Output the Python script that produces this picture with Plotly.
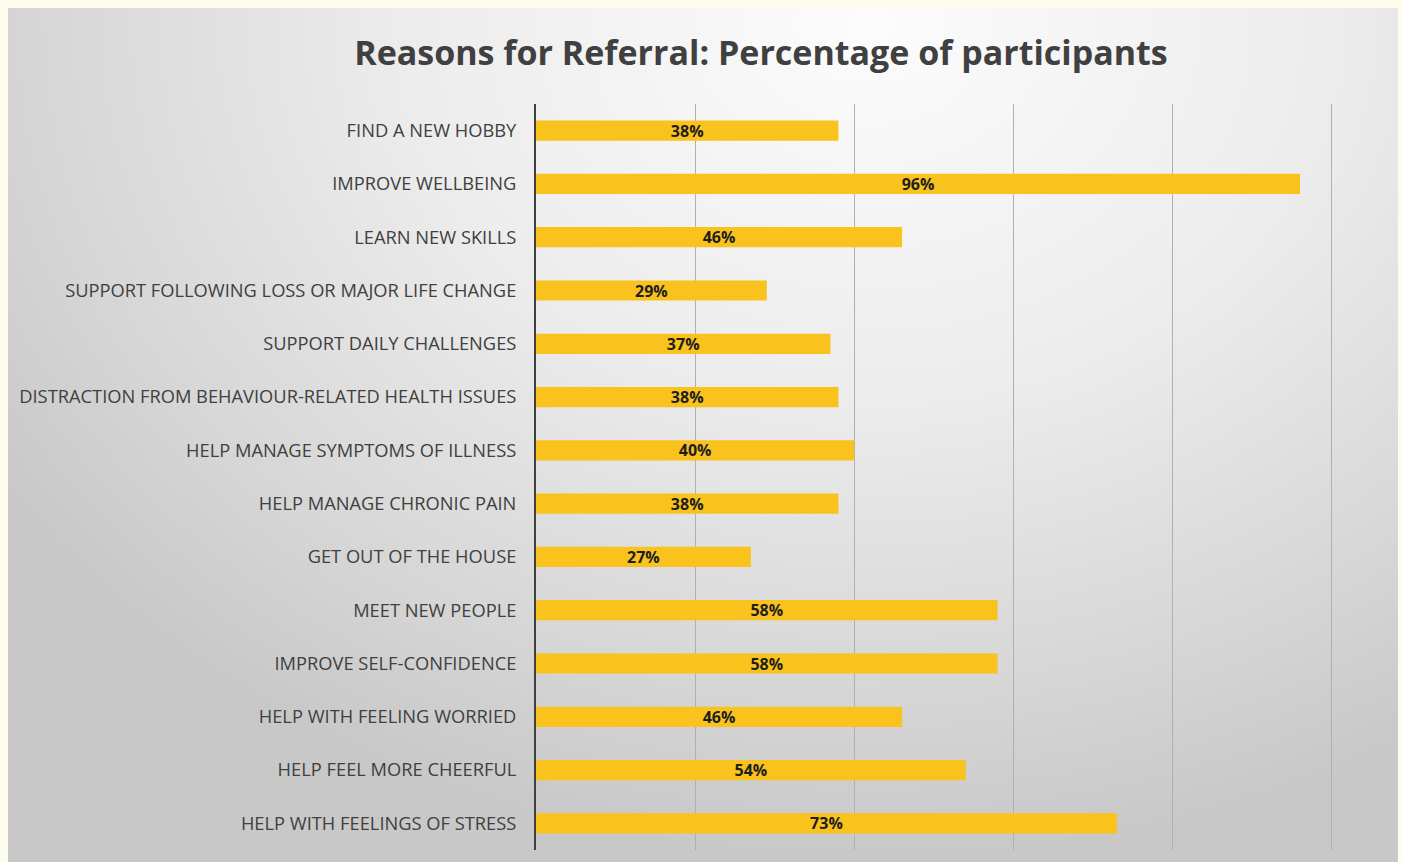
import base64
import plotly.graph_objects as go

categories = [
    "FIND A NEW HOBBY",
    "IMPROVE WELLBEING",
    "LEARN NEW SKILLS",
    "SUPPORT FOLLOWING LOSS OR MAJOR LIFE CHANGE",
    "SUPPORT DAILY CHALLENGES",
    "DISTRACTION FROM BEHAVIOUR-RELATED HEALTH ISSUES",
    "HELP MANAGE SYMPTOMS OF ILLNESS",
    "HELP MANAGE CHRONIC PAIN",
    "GET OUT OF THE HOUSE",
    "MEET NEW PEOPLE",
    "IMPROVE SELF-CONFIDENCE",
    "HELP WITH FEELING WORRIED",
    "HELP FEEL MORE CHEERFUL",
    "HELP WITH FEELINGS OF STRESS",
]
values = [38, 96, 46, 29, 37, 38, 40, 38, 27, 58, 58, 46, 54, 73]
labels = [f"{v}%" for v in values]
title_text = "Reasons for Referral: Percentage of participants"

W, H = 1403, 862
L, R, T, B = 536, 70, 104, 12
pw, ph = W - L - R, H - T - B

svg = """<svg xmlns='http://www.w3.org/2000/svg' width='1390' height='854' viewBox='0 0 1390 854' preserveAspectRatio='none'>
<defs><radialGradient id='g' cx='0.62' cy='0.02' r='0.75' gradientTransform='translate(0.62 0.02) scale(1 1.3) translate(-0.62 -0.02)'>
<stop offset='0' stop-color='#fcfcfc'/><stop offset='0.45' stop-color='#ececec'/><stop offset='0.8' stop-color='#d6d6d6'/><stop offset='1' stop-color='#c8c8c8'/>
</radialGradient></defs><rect x='0' y='0' width='1390' height='854' fill='url(#g)'/></svg>"""
src = "data:image/svg+xml;base64," + base64.b64encode(svg.encode()).decode()

fig = go.Figure(go.Bar(
    x=values, y=categories, orientation="h",
    marker=dict(color="#F9C21D", line=dict(width=0)),
    width=0.38,
    text=labels, textposition="inside", insidetextanchor="middle",
    constraintext="none",
    textfont=dict(family="Open Sans", size=16, color="#1e1e1e", weight="bold"),
    cliponaxis=False,
    hoverinfo="skip",
))

fig.update_layout(
    width=W, height=H,
    margin=dict(l=L, r=R, t=T, b=B, autoexpand=False),
    paper_bgcolor="#FEFBEF",
    plot_bgcolor="rgba(0,0,0,0)",
    showlegend=False,
    title=dict(text=title_text, x=761 / W, xanchor="center", y=1 - 53 / H, yanchor="middle",
               font=dict(family="Open Sans", size=34, color="#404040", weight="bold")),
    images=[dict(source=src, xref="paper", yref="paper",
                 x=(8 - L) / pw, y=(H - 8 - B) / ph, sizex=1390 / pw, sizey=(H - 8) / ph,
                 xanchor="left", yanchor="top", sizing="stretch", layer="below")],
    xaxis=dict(range=[0, 100.15], dtick=20, showticklabels=False, showgrid=True,
               gridcolor="#b0b0b0", gridwidth=1, zeroline=False, showline=False,
               fixedrange=True),
    yaxis=dict(autorange="reversed", showline=True, linecolor="#404040", linewidth=2,
               ticks="", ticklabelstandoff=14, fixedrange=True,
               tickfont=dict(family="Open Sans", size=18.3, color="#404040")),
)

fig.write_html(
    "out.html",
    config={"displayModeBar": False},
    post_script="document.body.style.margin='0';document.body.style.overflow='hidden';"
                "document.body.style.background='#FEFBEF';",
)
